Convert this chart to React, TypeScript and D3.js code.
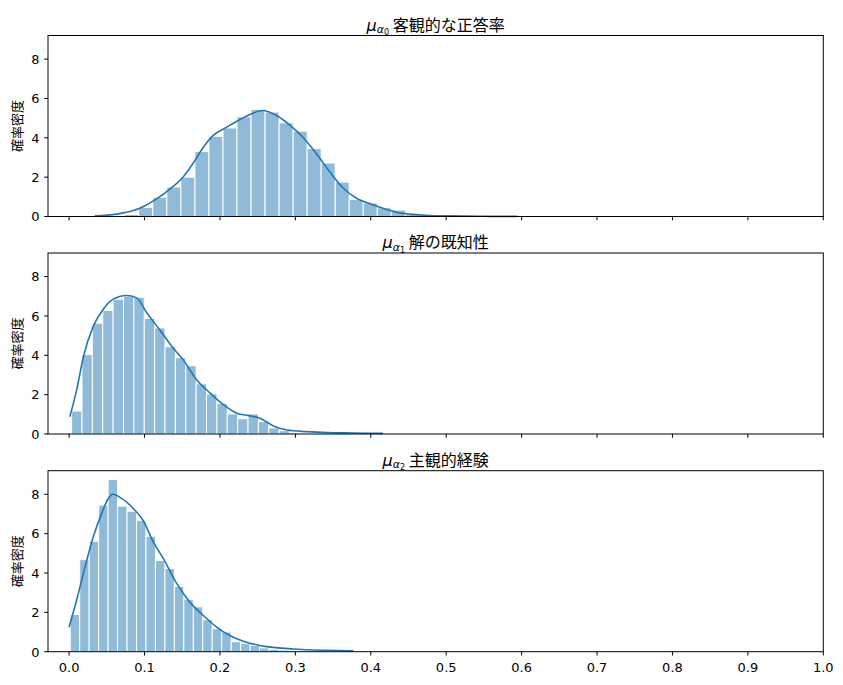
import React from "react";
import * as d3 from "d3";

// ---- data ----
const panelTitlesSub = ["0", "1", "2"];
const panelTitlesText = ["客観的な正答率", "解の既知性", "主観的経験"];

// histogram bins: [min edge, bin width], 30 bins each
const binMin = [0.0366, 0.0033, 0.0015];
const binWidth = [0.0186, 0.01376, 0.01255];

const density0 = [0.02, 0.05, 0.1, 0.47, 0.98, 1.5, 2.0, 3.3, 4.08, 4.5, 5.07, 5.44, 5.31, 4.76, 4.34, 3.45, 2.72, 1.75, 0.87, 0.69, 0.44, 0.33, 0.1, 0.06, 0.04, 0.03, 0.02, 0.01, 0.01, 0.01];
const density1 = [1.17, 4.03, 5.63, 6.28, 6.85, 7.0, 6.95, 5.87, 5.39, 4.44, 3.88, 3.47, 2.55, 2.04, 1.56, 1.02, 0.78, 1.02, 0.63, 0.31, 0.17, 0.08, 0.05, 0.04, 0.03, 0.02, 0.02, 0.01, 0.01, 0.01];
const density2 = [1.89, 4.68, 5.61, 7.45, 8.76, 7.4, 7.14, 6.68, 5.87, 4.64, 4.23, 3.32, 2.65, 2.28, 1.63, 1.17, 1.0, 0.51, 0.41, 0.32, 0.19, 0.12, 0.08, 0.05, 0.04, 0.03, 0.02, 0.02, 0.01, 0.01];

const kde0: [number, number][] = [[0.034, 0.03], [0.063, 0.12], [0.085, 0.3], [0.098, 0.5], [0.116, 0.9], [0.134, 1.41], [0.151, 2.0], [0.164, 2.68], [0.178, 3.52], [0.191, 4.12], [0.209, 4.54], [0.226, 4.92], [0.24, 5.19], [0.257, 5.39], [0.275, 5.13], [0.293, 4.63], [0.31, 4.03], [0.328, 3.19], [0.346, 2.25], [0.363, 1.46], [0.381, 0.93], [0.399, 0.65], [0.416, 0.42], [0.434, 0.22], [0.452, 0.12], [0.478, 0.05], [0.505, 0.03], [0.55, 0.01], [0.594, 0.005]];
const kde1: [number, number][] = [[0.001, 0.88], [0.01, 2.24], [0.019, 3.94], [0.032, 5.47], [0.045, 6.33], [0.058, 6.84], [0.076, 7.04], [0.0895, 6.92], [0.103, 6.16], [0.12, 5.3], [0.138, 4.37], [0.151, 3.78], [0.169, 2.76], [0.187, 2.08], [0.205, 1.48], [0.222, 1.06], [0.24, 0.92], [0.253, 0.8], [0.271, 0.41], [0.289, 0.2], [0.315, 0.12], [0.342, 0.07], [0.377, 0.05], [0.416, 0.03]];
const kde2: [number, number][] = [[0.0, 1.24], [0.0098, 2.6], [0.021, 4.3], [0.032, 5.83], [0.043, 7.02], [0.052, 7.79], [0.058, 8.0], [0.0696, 7.79], [0.085, 7.28], [0.098, 6.68], [0.1116, 5.58], [0.125, 4.73], [0.143, 3.45], [0.16, 2.52], [0.178, 1.84], [0.196, 1.24], [0.213, 0.82], [0.236, 0.47], [0.262, 0.26], [0.297, 0.14], [0.342, 0.07], [0.377, 0.04]];

const densities = [density0, density1, density2];
const kdes = [kde0, kde1, kde2];

const xTicks = [0, 0.1, 0.2, 0.3, 0.4, 0.5, 0.6, 0.7, 0.8, 0.9, 1.0];
const yTicks = [0, 2, 4, 6, 8];
const xDomain: [number, number] = [-0.028, 1.0];
const yDomain: [number, number] = [0, 9.2];
const yLabel = "確率密度";

// ---- layout ----
const W = 843;
const H = 685;
const left = 48;
const right = 823.3;
const panelTops = [35.5, 253, 470.7];
const panelH = 181;
const barColor = "rgb(143,187,217)";
const lineColor = "#1f77b4";
const tickFont = "'DejaVu Sans', sans-serif";
const cjkFont = "'Noto Sans CJK JP', 'DejaVu Sans', sans-serif";

function Panel({ idx }: { idx: number }) {
  const top = panelTops[idx];
  const bottom = top + panelH;
  const x = d3.scaleLinear().domain(xDomain).range([left, right]);
  const y = d3.scaleLinear().domain(yDomain).range([bottom, top]);
  const dens = densities[idx];
  const line = d3
    .line<[number, number]>()
    .x((d) => x(d[0]))
    .y((d) => y(d[1]))
    .curve(d3.curveMonotoneX);
  const isBottom = idx === 2;
  const cx = (left + right) / 2;
  return (
    <g>
      {dens.map((v, i) => {
        const x0 = binMin[idx] + i * binWidth[idx];
        const x1 = x0 + binWidth[idx];
        return (
          <rect
            key={i}
            x={x(x0)}
            y={y(v)}
            width={x(x1) - x(x0)}
            height={y(0) - y(v)}
            fill={barColor}
            stroke="#fff"
            strokeWidth={1}
          />
        );
      })}
      <path d={line(kdes[idx]) || ""} fill="none" stroke={lineColor} strokeWidth={1.6} />
      <rect x={left} y={top} width={right - left} height={panelH} fill="none" stroke="#000" strokeWidth={1} />
      {xTicks.map((t) => (
        <g key={t}>
          <line x1={x(t)} x2={x(t)} y1={bottom} y2={bottom + 3.8} stroke="#000" strokeWidth={1} />
          {isBottom && (
            <text x={x(t)} y={bottom + 20} textAnchor="middle" fontFamily={tickFont} fontSize={13} fill="#000">
              {t.toFixed(1)}
            </text>
          )}
        </g>
      ))}
      {yTicks.map((t) => (
        <g key={t}>
          <line x1={left - 3.8} x2={left} y1={y(t)} y2={y(t)} stroke="#000" strokeWidth={1} />
          <text x={left - 8.5} y={y(t) + 4.8} textAnchor="end" fontFamily={tickFont} fontSize={13} fill="#000">
            {t}
          </text>
        </g>
      ))}
      <text
        transform={`translate(${16.5},${(top + bottom) / 2}) rotate(-90)`}
        textAnchor="middle"
        dominantBaseline="central"
        fontFamily={cjkFont}
        fontSize={13}
        fill="#000"
      >
        {yLabel}
      </text>
      <text x={cx} y={top - 5} textAnchor="middle" fontSize={16} fill="#000" fontFamily={cjkFont}>
        <tspan fontFamily={tickFont} fontStyle="italic">μ</tspan>
        <tspan fontFamily={tickFont} fontStyle="italic" fontSize={11} dy={2.5}>α</tspan>
        <tspan fontFamily={tickFont} fontSize={8} dy={2}>{panelTitlesSub[idx]}</tspan>
        <tspan dy={-4.5}>{" " + panelTitlesText[idx]}</tspan>
      </text>
    </g>
  );
}

export default function App() {
  return (
    <svg
      width={W}
      height={H}
      viewBox={`0 0 ${W} ${H}`}
      style={{ position: "absolute", left: 0, top: 0, background: "#fff" }}
    >
      <rect x={0} y={0} width={W} height={H} fill="#fff" />
      {[0, 1, 2].map((i) => (
        <Panel key={i} idx={i} />
      ))}
    </svg>
  );
}
